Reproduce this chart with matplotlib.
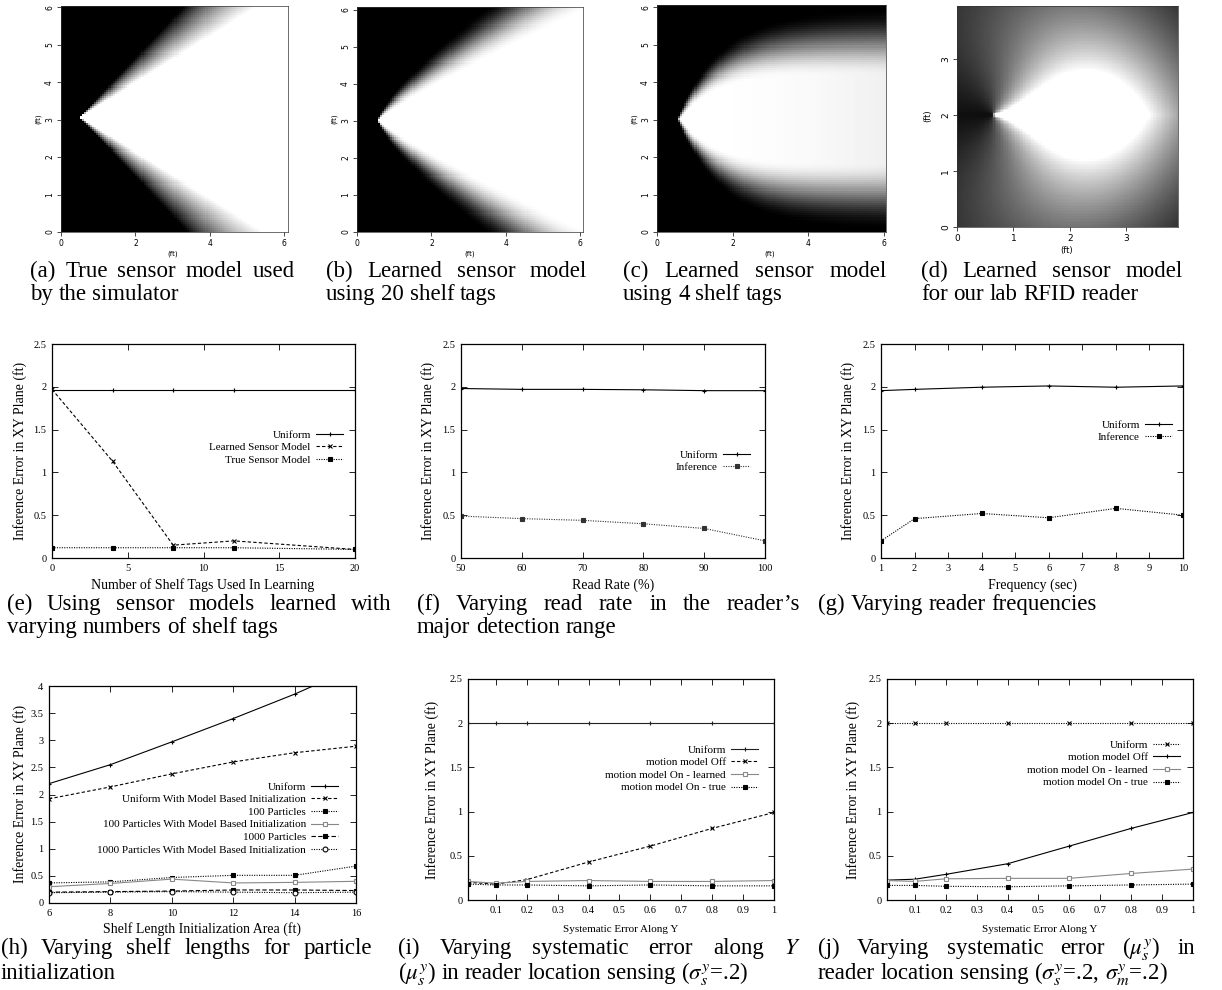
import numpy as np
import matplotlib
matplotlib.use('Agg')
import matplotlib.pyplot as plt
from matplotlib.ticker import FuncFormatter

W, H = 1222, 990
plt.rcParams['font.family'] = ['Liberation Serif', 'DejaVu Serif']
plt.rcParams['mathtext.fontset'] = 'stix'

# ---------------- data ----------------
# (a)-(d) sensor model images: reader apex and extent of each image
a_apex, a_xmax, a_ymax = (0.5, 3.05), 6.1, 6.03
b_apex, b_xmax, b_ymax = (0.55, 3.0), 6.07, 6.07
c_apex, c_xmax, c_ymax = (0.56, 3.0), 6.06, 6.06
d_apex, d_xmax, d_ymax = (0.64, 2.0), 3.92, 3.94

# (e) number of shelf tags
tags_x = [0, 4, 8, 12, 20]
tags_uniform = [1.96, 1.96, 1.96, 1.96, 1.96]
tags_learned = [1.97, 1.13, 0.15, 0.20, 0.10]
tags_true = [0.12, 0.12, 0.12, 0.12, 0.10]

# (f) read rate
rate_x = [50, 60, 70, 80, 90, 100]
rate_uniform = [1.98, 1.97, 1.97, 1.965, 1.955, 1.955]
rate_inference = [0.49, 0.46, 0.44, 0.40, 0.345, 0.20]

# (g) reader frequency
freq_x = [1, 2, 4, 6, 8, 10]
freq_uniform = [1.955, 1.97, 1.995, 2.01, 1.995, 2.01]
freq_inference = [0.20, 0.46, 0.52, 0.47, 0.58, 0.50]

# (h) shelf length initialization area
shelf_x = [6, 8, 10, 12, 14, 16]
shelf_uniform = [2.20, 2.55, 2.97, 3.40, 3.85, 4.35]
shelf_uniform_mbi = [1.92, 2.14, 2.38, 2.60, 2.77, 2.89]
shelf_p100 = [0.37, 0.39, 0.47, 0.51, 0.51, 0.68]
shelf_p100_mbi = [0.30, 0.36, 0.44, 0.37, 0.38, 0.40]
shelf_p1000 = [0.20, 0.21, 0.22, 0.24, 0.24, 0.23]
shelf_p1000_mbi = [0.19, 0.20, 0.21, 0.20, 0.19, 0.20]

# (i) / (j) systematic error along Y
sys_x = [0.01, 0.1, 0.2, 0.4, 0.6, 0.8, 1.0]
i_uniform = [2.0, 2.0, 2.0, 2.0, 2.0, 2.0, 2.0]
i_off = [0.20, 0.18, 0.23, 0.43, 0.61, 0.81, 0.99]
i_learned = [0.21, 0.19, 0.21, 0.22, 0.21, 0.21, 0.22]
i_true = [0.18, 0.17, 0.17, 0.16, 0.17, 0.16, 0.16]
j_uniform = [2.0, 2.0, 2.0, 2.0, 2.0, 2.0, 2.0]
j_off = [0.225, 0.235, 0.29, 0.41, 0.61, 0.81, 0.99]
j_learned = [0.22, 0.21, 0.24, 0.245, 0.245, 0.30, 0.35]
j_true = [0.165, 0.165, 0.155, 0.15, 0.16, 0.17, 0.18]

ylab = 'Inference Error in XY Plane (ft)'

fig = plt.figure(figsize=(W / 100, H / 100), dpi=100)


def add_ax(l, t, r, b):
    return fig.add_axes([l / W, 1 - b / H, (r - l) / W, (b - t) / H])


def ftext(x, y, s, **kw):
    return fig.text(x / W, 1 - y / H, s, **kw)


# ---------------- sensor model images ----------------
def grid(xmax, ymax, n=110):
    xs = (np.arange(n) + 0.5) * xmax / n
    ys = (np.arange(n) + 0.5) * ymax / n
    return np.meshgrid(xs, ys)


def ramp(w_in, w_out, dy):
    return np.clip((w_out - dy) / np.maximum(w_out - w_in, 1e-6), 0, 1)


def heat(ax, img, xmax, ymax, xticks, yticks, lsize):
    ax.imshow(img, extent=(0, xmax, 0, ymax), origin='lower', cmap='gray',
              vmin=0, vmax=1, aspect='auto', interpolation='nearest')
    ax.set_xlim(0, xmax)
    ax.set_ylim(0, ymax)
    ax.set_xticks(xticks)
    ax.set_yticks(yticks)
    ax.tick_params(direction='out', length=3, width=0.5, labelsize=lsize, pad=2)
    ax.tick_params(axis='y', labelrotation=90)
    for lbl in ax.get_yticklabels() + ax.get_xticklabels():
        lbl.set_family('DejaVu Sans')
    for lbl in ax.get_yticklabels():
        lbl.set_va('center')
    for s in ax.spines.values():
        s.set_linewidth(0.5)
        s.set_color('#333333')


# (a) true model
X, Y = grid(a_xmax, a_ymax)
dx = np.maximum(X - a_apex[0], 0)
dy = np.abs(Y - a_apex[1])
img_a = np.where(X > a_apex[0], ramp(0.615 * dx, 1.05 * dx, dy), 0)
ax = add_ax(61, 6, 288, 232)
heat(ax, img_a, a_xmax, a_ymax, [0, 2, 4, 6], range(7), 5.5)

# (b) learned, 20 tags
X, Y = grid(b_xmax, b_ymax)
dx = np.maximum(X - b_apex[0], 0)
dy = np.abs(Y - b_apex[1])
p = ramp(0.62 * dx ** 0.9, 1.35 * dx ** 0.75, dy)
img_b = np.where(X > b_apex[0], p * p * (3 - 2 * p), 0)
ax = add_ax(357, 7, 583, 232)
heat(ax, img_b, b_xmax, b_ymax, [0, 2, 4, 6], range(7), 5.5)

# (c) learned, 4 tags
X, Y = grid(c_xmax, c_ymax)
dx = np.maximum(X - c_apex[0], 0)
dy = np.abs(Y - c_apex[1])
w_mid = 2.05 * (1 - np.exp(-dx / 1.1))
hw = 0.85 * (1 - np.exp(-dx / 1.6)) + 0.08
p = ramp(w_mid - hw, w_mid + hw, dy)
img_c = np.where(X > c_apex[0], p * p * (3 - 2 * p) * (1 - 0.06 * (dx / 5.5) ** 2), 0)
ax = add_ax(657, 5, 886, 232)
heat(ax, img_c, c_xmax, c_ymax, [0, 2, 4, 6], range(7), 5.5)

# (d) lab reader
X, Y = grid(d_xmax, d_ymax, 140)
dx = X - d_apex[0]
dy = Y - d_apex[1]
rr = np.hypot(dx, dy)
th = np.degrees(np.abs(np.arctan2(dy, dx)))
img_d = np.clip(np.exp(-th / 55) * 1.75 * np.exp(-((rr - 1.2) / 2.1) ** 2), 0, 1)
ax = add_ax(957, 6, 1178, 227)
heat(ax, img_d, d_xmax, d_ymax, [0, 1, 2, 3], [0, 1, 2, 3], 6.5)

for cx, cy, yx, yy, fs in [(173, 254, 38, 119, 5), (470, 254, 334, 119, 5),
                           (770, 254, 634, 119, 5), (1067, 251, 928, 116, 6)]:
    ftext(cx, cy, '(ft)', ha='center', va='center', fontsize=fs, family='DejaVu Sans')
    ftext(yx, yy, '(ft)', ha='center', va='center', fontsize=fs, family='DejaVu Sans', rotation=90)

# ---------------- gnuplot style line panels ----------------
fmt = FuncFormatter(lambda v, pos: '%g' % round(v, 3))
SOLID = '-'
DASH = (0, (3, 2))
DOT = (0, (1, 1.2))
DASH2 = (0, (4, 2))


def gp(ax, xlim, ylim, xticks, yticks):
    ax.set_xlim(*xlim)
    ax.set_ylim(*ylim)
    ax.set_xticks(xticks)
    ax.set_yticks(yticks)
    ax.xaxis.set_major_formatter(fmt)
    ax.yaxis.set_major_formatter(fmt)
    ax.tick_params(direction='in', top=True, right=True, length=4, width=0.6,
                   labelsize=7.5, pad=4)
    for s in ax.spines.values():
        s.set_linewidth(0.9)


def gp_legend(ax, rect, right, top):
    l, t, r, b = rect
    ax.legend(loc='upper right', bbox_to_anchor=((right - l) / (r - l), (b - top) / (b - t)),
              frameon=False, markerfirst=False, fontsize=8, handlelength=2.4,
              handletextpad=0.5, labelspacing=0.25, borderpad=0, borderaxespad=0)


def line(ax, x, y, ls, marker, label, color='black', ms=3.5, mfc=None):
    ax.plot(x, y, linestyle=ls, color=color, lw=0.8, marker=marker, ms=ms,
            mfc=mfc if mfc else color, mec=color, mew=0.8, label=label)


# (e)
rect = (52, 344, 355, 558)
ax = add_ax(*rect)
line(ax, tags_x, tags_uniform, SOLID, '+', 'Uniform')
line(ax, tags_x, tags_learned, DASH, 'x', 'Learned Sensor Model', ms=3)
line(ax, tags_x, tags_true, DOT, 's', 'True Sensor Model', ms=3)
gp(ax, (0, 20), (0, 2.5), [0, 5, 10, 15, 20], np.arange(0, 2.51, 0.5))
gp_legend(ax, rect, 343, 430)
ftext(20, 451, ylab, rotation=90, ha='center', va='center', fontsize=10)
ftext(203, 585, 'Number of Shelf Tags Used In Learning', ha='center', va='center', fontsize=10)

# (f)
rect = (461, 344, 765, 558)
ax = add_ax(*rect)
line(ax, rate_x, rate_uniform, SOLID, '+', 'Uniform')
line(ax, rate_x, rate_inference, DOT, 's', 'Inference', color='#333333', ms=3)
gp(ax, (50, 100), (0, 2.5), rate_x, np.arange(0, 2.51, 0.5))
gp_legend(ax, rect, 750, 450)
ftext(428, 451, ylab, rotation=90, ha='center', va='center', fontsize=10)
ftext(613, 585, 'Read Rate (%)', ha='center', va='center', fontsize=10)

# (g)
rect = (881, 344, 1183, 558)
ax = add_ax(*rect)
line(ax, freq_x, freq_uniform, SOLID, '+', 'Uniform')
line(ax, freq_x, freq_inference, DOT, 's', 'Inference', ms=3)
gp(ax, (1, 10), (0, 2.5), range(1, 11), np.arange(0, 2.51, 0.5))
gp_legend(ax, rect, 1172, 420)
ftext(848, 451, ylab, rotation=90, ha='center', va='center', fontsize=10)
ftext(1032, 585, 'Frequency (sec)', ha='center', va='center', fontsize=10)

# (h)
rect = (49, 686, 356, 903)
ax = add_ax(*rect)
line(ax, shelf_x, shelf_uniform, SOLID, '+', 'Uniform')
line(ax, shelf_x, shelf_uniform_mbi, DASH, 'x', 'Uniform With Model Based Initialization', ms=3)
line(ax, shelf_x, shelf_p100, DOT, 's', '100 Particles', ms=2.5)
line(ax, shelf_x, shelf_p100_mbi, SOLID, 's', '100 Particles With Model Based Initialization',
     color='#888888', mfc='white')
line(ax, shelf_x, shelf_p1000, DASH2, 's', '1000 Particles', ms=3.5)
line(ax, shelf_x, shelf_p1000_mbi, DOT, 'o', '1000 Particles With Model Based Initialization',
     ms=3.5, mfc='white')
gp(ax, (6, 16), (0, 4), shelf_x, np.arange(0, 4.01, 0.5))
gp_legend(ax, rect, 338, 782)
ftext(20, 794, ylab, rotation=90, ha='center', va='center', fontsize=10)
ftext(202, 929, 'Shelf Length Initialization Area (ft)', ha='center', va='center', fontsize=10)

# (i)
sys_ticks = [0.1, 0.2, 0.3, 0.4, 0.5, 0.6, 0.7, 0.8, 0.9, 1.0]
rect = (468, 679, 774, 900)
ax = add_ax(*rect)
line(ax, sys_x, i_uniform, SOLID, '+', 'Uniform', color='#222222')
line(ax, sys_x, i_off, DASH, 'x', 'motion model Off', ms=3)
line(ax, sys_x, i_learned, SOLID, 's', 'motion model On - learned', color='#888888', mfc='white')
line(ax, sys_x, i_true, DOT, 's', 'motion model On - true', ms=3)
gp(ax, (0.01, 1), (0, 2.5), sys_ticks, np.arange(0, 2.51, 0.5))
gp_legend(ax, rect, 758, 745)
ftext(432, 790, ylab, rotation=90, ha='center', va='center', fontsize=10)
ftext(621, 929, 'Systematic Error Along Y', ha='center', va='center', fontsize=8)

# (j)
rect = (887, 679, 1193, 900)
ax = add_ax(*rect)
line(ax, sys_x, j_uniform, DOT, 'x', 'Uniform', ms=3)
line(ax, sys_x, j_off, SOLID, '+', 'motion model Off')
line(ax, sys_x, j_learned, SOLID, 's', 'motion model On - learned', color='#888888', mfc='white')
line(ax, sys_x, j_true, DOT, 's', 'motion model On - true', ms=3)
gp(ax, (0.01, 1), (0, 2.5), sys_ticks, np.arange(0, 2.51, 0.5))
gp_legend(ax, rect, 1180, 740)
ftext(853, 790, ylab, rotation=90, ha='center', va='center', fontsize=10)
ftext(1040, 929, 'Systematic Error Along Y', ha='center', va='center', fontsize=8)

# ---------------- justified captions ----------------
renderer = fig.canvas.get_renderer()


def caption(lines, x0, x1, y0, step, size=16.5):
    for k, txt in enumerate(lines):
        words = txt.split(' ')
        objs = [ftext(0, y0 + k * step, w, fontsize=size, va='baseline') for w in words]
        widths = [o.get_window_extent(renderer).width for o in objs]
        if k < len(lines) - 1 and len(words) > 1:
            gap = ((x1 - x0) - sum(widths)) / (len(words) - 1)
        else:
            gap = size * 100 / 72 * 0.25
        x = x0
        for o, w in zip(objs, widths):
            o.set_x(x / W)
            x += w + gap


caption(['(a) True sensor model used', 'by the simulator'], 30, 295, 277, 23)
caption(['(b) Learned sensor model', 'using 20 shelf tags'], 326, 587, 277, 23)
caption(['(c) Learned sensor model', 'using 4 shelf tags'], 623, 887, 277, 23)
caption(['(d) Learned sensor model', 'for our lab RFID reader'], 921, 1183, 277, 23)
caption(['(e) Using sensor models learned with', 'varying numbers of shelf tags'], 7, 392, 610, 23)
caption(['(f) Varying read rate in the reader\u2019s', 'major detection range'], 417, 800, 610, 23)
caption(['(g) Varying reader frequencies'], 818, 1200, 610, 23)
caption(['(h) Varying shelf lengths for particle', 'initialization'], 1, 372, 954, 25)
caption(['(i) Varying systematic error along $Y$',
         '($\\mu_s^y$) in reader location sensing ($\\sigma_s^y$=.2)'], 398, 800, 954, 25)
caption(['(j) Varying systematic error ($\\mu_s^y$) in',
         'reader location sensing ($\\sigma_s^y$=.2, $\\sigma_m^y$=.2)'], 818, 1195, 954, 25)

fig.savefig('out.png', dpi=100)
